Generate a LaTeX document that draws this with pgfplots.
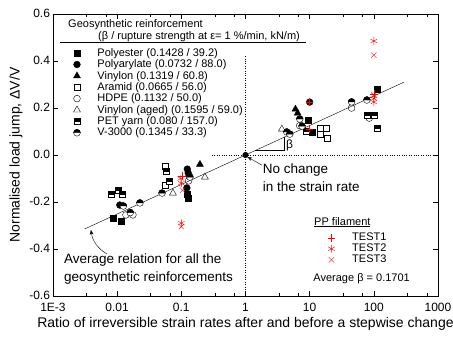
\documentclass[border=0pt]{standalone}
\usepackage{pgfplots}
\pgfplotsset{compat=1.18}
\usepackage{fontspec}
\setmainfont{Liberation Sans}
\usetikzlibrary{arrows.meta}

\pgfdeclareplotmark{halfsquare}{%
  \pgfscope\pgfsetfillcolor{white}%
  \pgfpathrectangle{\pgfpoint{-\pgfplotmarksize}{-\pgfplotmarksize}}{\pgfpoint{2\pgfplotmarksize}{2\pgfplotmarksize}}%
  \pgfusepathqfillstroke\endpgfscope
  \pgfpathrectangle{\pgfpoint{-\pgfplotmarksize}{0pt}}{\pgfpoint{2\pgfplotmarksize}{\pgfplotmarksize}}%
  \pgfusepathqfillstroke
}
\pgfdeclareplotmark{halfcircle}{%
  \pgfscope\pgfsetfillcolor{white}%
  \pgfpathcircle{\pgfpointorigin}{\pgfplotmarksize}%
  \pgfusepathqfillstroke\endpgfscope
  \pgfpathmoveto{\pgfpoint{\pgfplotmarksize}{0pt}}%
  \pgfpatharc{0}{180}{\pgfplotmarksize}%
  \pgfpathclose\pgfusepathqfillstroke
}

\pgfplotsset{
  legend image code/.code={\draw[#1] plot coordinates {(0pt,0pt)};},
}

\begin{document}
\begin{tikzpicture}
\begin{axis}[name=ax,
  scale only axis, width=385pt, height=282pt,
  xmode=log, xmin=1e-3, xmax=1000, ymin=-0.6, ymax=0.6,
  xtick={1e-3,1e-2,0.1,1,10,100,1000},
  xticklabels={1E-3,0.01,0.1,1,10,100,1000},
  minor xtick={0.00333,0.00667,0.0333,0.0667,0.333,0.667,3.33,6.67,33.3,66.7,333,667},
  ytick={-0.6,-0.4,-0.2,0,0.2,0.4,0.6},
  yticklabels={-0.6,-0.4,-0.2,0.0,0.2,0.4,0.6},
  tick align=inside, major tick length=5pt, minor tick length=3pt,
  tick style={black, thin},
  ticklabel style={font=\fontsize{12}{14}\selectfont},
  xticklabel style={yshift=-3.5pt},
  yticklabel style={xshift=0.5pt, yshift=0.5pt},
  xlabel={Ratio of irreversible strain rates after and before a stepwise change},
  ylabel={Normalised load jump, ΔV/V},
  label style={font=\fontsize{14}{16}\selectfont},
  xlabel style={yshift=1pt},
  legend style={draw=none, fill=none, at={(0.045,0.89)}, anchor=north west,
    font=\fontsize{11}{13}\selectfont, row sep=-0.5pt,
    nodes={inner ysep=1.2pt, inner xsep=0pt}, column sep=17pt},
  legend cell align=left,
  mark size=3.4pt,
  clip=false,
]
% legend header
\node[anchor=west, font=\fontsize{11}{13}\selectfont, inner sep=0pt] at (rel axis cs:0.039,0.962) {Geosynthetic reinforcement};
\node[anchor=west, font=\fontsize{11}{13}\selectfont, inner sep=0pt] at (rel axis cs:0.117,0.920) {(β / rupture strength at ε= 1 \%/min, kN/m)};
\draw[thin] (rel axis cs:0.018,0.899) -- (rel axis cs:0.657,0.899);

\addplot[only marks, mark=square*, mark options={fill=black}, mark size=3pt] coordinates {
(0.0086,-0.268) (0.0114,-0.281) (0.122,-0.166) (0.126,-0.183) (9.4,0.149) (10.8,0.098) (111,0.28)};
\addlegendentry{Polyester (0.1428 / 39.2)}
\addplot[only marks, mark=*, mark options={fill=black}] coordinates {
(0.0110,-0.213) (0.124,-0.06) (0.128,-0.077) (10,0.225) (0.122,-0.14)};
\addlegendentry{Polyarylate (0.0732 / 88.0)}
\addplot[only marks, mark=triangle*, mark options={fill=black}, mark size=4pt] coordinates {
(0.195,-0.04) (6.0,0.195) (6.5,0.178)};
\addlegendentry{Vinylon (0.1319 / 60.8)}
\addplot[only marks, mark=square, mark options={fill=white}, mark size=3pt] coordinates {
(0.0557,-0.047) (0.0557,-0.13) (14.4,0.115) (17.8,0.115) (14.4,0.089) (18.5,0.072)};
\addlegendentry{Aramid (0.0665 / 56.0)}
\addplot[only marks, mark=o, mark options={fill=white}] coordinates {
(0.0137,-0.255) (0.0176,-0.255) (0.130,-0.11) (45,0.20) (85,0.157) (7.0,0.125)};
\addlegendentry{HDPE (0.1132 / 50.0)}
\addplot[only marks, mark=triangle, mark options={fill=white}, mark size=4pt] coordinates {
(0.074,-0.162) (0.233,-0.094) (3.69,0.11)};
\addlegendentry{Vinylon (aged) (0.1595 / 59.0)}
\addplot[only marks, mark=halfsquare, mark options={fill=black}, mark size=3pt] coordinates {
(0.0080,-0.166) (0.0103,-0.149) (0.0119,-0.166) (0.0577,-0.068) (0.064,-0.11) (8.7,0.102) (80,0.17) (100,0.17) (111,0.115)};
\addlegendentry{PET yarn (0.080 / 157.0)}
\addplot[only marks, mark=halfcircle, mark options={fill=black}] coordinates {
(0.0125,-0.217) (0.0226,-0.204) (0.050,-0.162) (0.016,-0.245) (7.0,0.153) (7.6,0.123) (4.4,0.098) (4.9,0.089) (45,0.226) (78,0.234) (0.136,-0.094)};
\addlegendentry{V-3000 (0.1345 / 33.3)}

% reference lines
\draw[dotted, thin] (axis cs:0.3,0) -- (axis cs:1000,0);
\draw[dotted, thin] (axis cs:1,0.42) -- (axis cs:1,-0.6);
\addplot[black, thin, forget plot] coordinates {(0.0031,-0.315) (295,0.31)};
\addplot[black, thin, forget plot] coordinates {(1.4,0.0184) (4,0.0184) (4,0.0756)};
\node[anchor=west, font=\fontsize{12}{14}\selectfont, inner sep=1pt] at (axis cs:4.1,0.042) {β};
\addplot[only marks, mark=*, mark size=2.8pt, forget plot] coordinates {(1,0)};

% annotations
\node[anchor=west, align=left, font=\fontsize{13.5}{18}\selectfont, inner sep=0pt] at (axis cs:1.85,-0.098) {No change\\in the strain rate};
\draw[-{Stealth[length=5pt,width=3.5pt]}, thin] (axis cs:1.8,-0.043) -- (axis cs:1.07,-0.008);
\node[anchor=west, align=left, font=\fontsize{13.5}{18}\selectfont, inner sep=0pt] at (axis cs:0.00148,-0.485) {Average relation for all the\\geosynthetic reinforcements};
\draw[-{Stealth[length=5pt,width=3.5pt]}, thin] (axis cs:0.0069,-0.421) to[bend left=25] (axis cs:0.0039,-0.318);
\end{axis}

\begin{axis}[
  scale only axis, width=385pt, height=282pt,
  xmode=log, xmin=1e-3, xmax=1000, ymin=-0.6, ymax=0.6,
  hide axis,
  legend style={draw=none, fill=none, at={(0.705,0.235)}, anchor=north west,
    font=\fontsize{11}{13}\selectfont, row sep=-0.5pt,
    nodes={inner ysep=1.2pt, inner xsep=0pt}, column sep=17pt},
  legend cell align=left,
  mark size=3.8pt,
]
\addplot[only marks, mark=+, red, thin] coordinates {
(10,0.225) (10,0.11) (0.102,-0.09) (100,0.26)};
\addlegendentry{TEST1}
\addplot[only marks, mark=asterisk, red, thin] coordinates {
(100,0.485) (0.1,-0.29) (100,0.24) (100,0.225) (0.1,-0.12) (0.098,-0.10)};
\addlegendentry{TEST2}
\addplot[only marks, mark=x, red, thin] coordinates {
(100,0.425) (0.1,-0.305) (100,0.255) (0.105,-0.15)};
\addlegendentry{TEST3}
\node[anchor=west, font=\fontsize{11}{13}\selectfont, inner sep=0pt] at (rel axis cs:0.678,0.262) {\underline{PP filament}};
\node[anchor=west, font=\fontsize{11}{13}\selectfont, inner sep=0pt] at (rel axis cs:0.676,0.06) {Average β = 0.1701};
\end{axis}

\pgfresetboundingbox
\path ([shift={(-53pt,-43pt)}]ax.south west) rectangle ([shift={(15pt,14pt)}]ax.north east);
\end{tikzpicture}
\end{document}
